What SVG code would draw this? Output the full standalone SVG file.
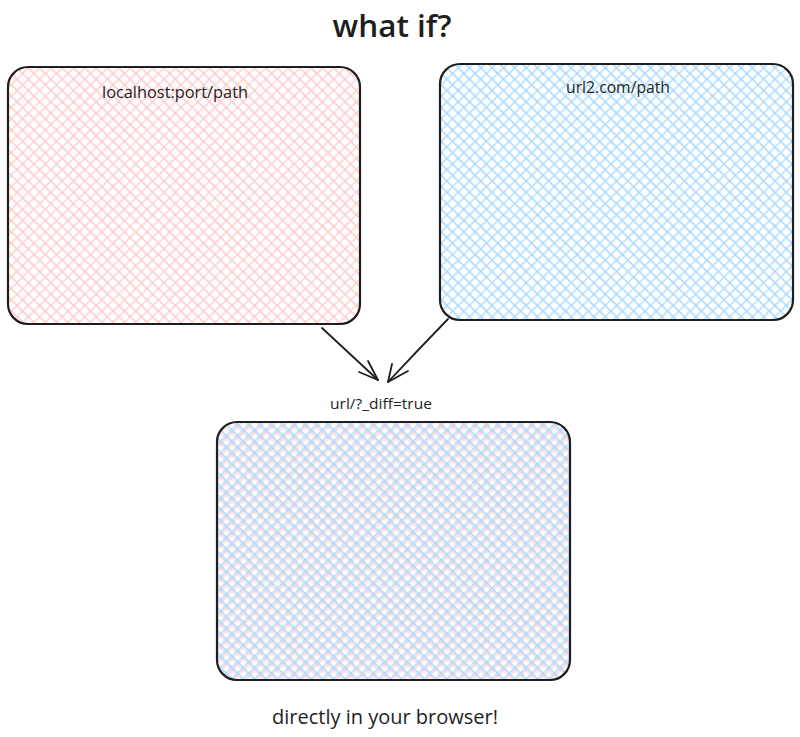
<svg xmlns="http://www.w3.org/2000/svg" width="800" height="737" viewBox="0 0 800 737">
  <style>
    .frame { fill: none; stroke: #1e1e1e; stroke-width: 2.2; stroke-linejoin: round; }
    .conn { fill: none; stroke: #1e1e1e; stroke-width: 1.8; stroke-linecap: round; stroke-linejoin: round; }
    .lbl { font-family: "Open Sans", "Liberation Sans", sans-serif; fill: #1e1e1e; text-anchor: middle; }
  </style>
  <defs>
    <!-- cross-hatch fills -->
    <pattern id="hatchRed" patternUnits="userSpaceOnUse" width="8" height="8" patternTransform="rotate(45)">
      <path d="M4 0V8M0 4H8" stroke="#ffc9c9" stroke-width="1.3" fill="none"/>
    </pattern>
    <pattern id="hatchBlue" patternUnits="userSpaceOnUse" width="8" height="8" patternTransform="rotate(45)">
      <path d="M4 0V8M0 4H8" stroke="#a5d8ff" stroke-width="1.3" fill="none"/>
    </pattern>
    <pattern id="hatchRedShift" patternUnits="userSpaceOnUse" width="8" height="8" patternTransform="rotate(45) translate(2 2)">
      <path d="M4 0V8M0 4H8" stroke="#ffc9c9" stroke-width="1.2" fill="none"/>
    </pattern>
  </defs>

  <rect width="800" height="737" fill="#ffffff"/>

  <text class="lbl" x="392" y="37" font-size="30" font-weight="600" textLength="119" lengthAdjust="spacingAndGlyphs">what if?</text>

  <g id="node-local">
    <rect x="8" y="67" width="352" height="257" rx="20" fill="url(#hatchRed)"/>
    <rect class="frame" x="8" y="67" width="352" height="257" rx="20"/>
    <text class="lbl" x="175" y="98" font-size="16" textLength="146" lengthAdjust="spacingAndGlyphs">localhost:port/path</text>
  </g>

  <g id="node-url2">
    <rect x="440" y="64" width="353" height="256" rx="20" fill="url(#hatchBlue)"/>
    <rect class="frame" x="440" y="64" width="353" height="256" rx="20"/>
    <text class="lbl" x="618" y="93" font-size="16" textLength="104" lengthAdjust="spacingAndGlyphs">url2.com/path</text>
  </g>

  <g id="node-diff">
    <rect x="217" y="422" width="353" height="258" rx="20" fill="url(#hatchRedShift)"/>
    <rect x="217" y="422" width="353" height="258" rx="20" fill="url(#hatchBlue)"/>
    <rect class="frame" x="217" y="422" width="353" height="258" rx="20"/>
    <text class="lbl" x="381" y="409" font-size="14" textLength="102" lengthAdjust="spacingAndGlyphs">url/?_diff=true</text>
  </g>

  <g id="connectors">
    <path class="conn" d="M322 328 Q350 354 378 380"/>
    <path class="conn" d="M359 372 L378 380 L368 361"/>
    <path class="conn" d="M448 319 Q418 350 388 382"/>
    <path class="conn" d="M392 364 L388 382 L408 371"/>
  </g>

  <text class="lbl" x="385" y="724" font-size="20" textLength="226" lengthAdjust="spacingAndGlyphs">directly in your browser!</text>
</svg>
